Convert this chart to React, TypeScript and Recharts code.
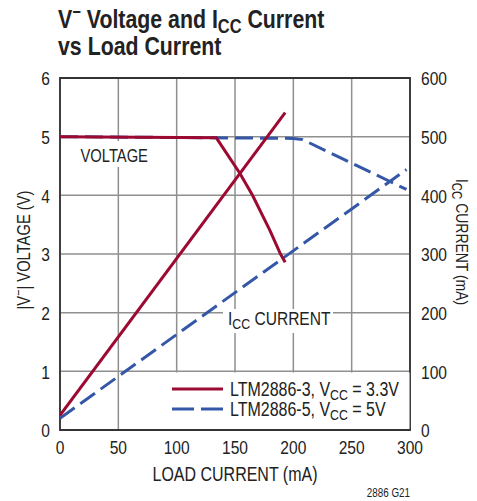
import React from "react";
import {
  ComposedChart,
  Line,
  XAxis,
  YAxis,
  CartesianGrid,
  ReferenceArea,
} from "recharts";

// ---- data ----
const loadV3 = [0, 134, 154, 165, 180, 189, 193];
const volt3 = [5.0, 4.98, 4.38, 4.0, 3.4, 3.0, 2.86];
const loadI3 = [0, 193];
const icc3 = [25, 541];

const loadV5 = [0, 200, 208, 297];
const volt5 = [5.0, 4.97, 4.95, 4.1];
const loadI5 = [0, 297];
const icc5 = [20, 444];

const xTicks = [0, 50, 100, 150, 200, 250, 300];
const leftTicks = [0, 1, 2, 3, 4, 5, 6];
const rightTicks = [0, 100, 200, 300, 400, 500, 600];

const zip = (xs: number[], ys: number[]) => xs.map((x, i) => ({ x, v: ys[i] }));

const dV3 = zip(loadV3, volt3);
const dI3 = zip(loadI3, icc3);
const dV5 = zip(loadV5, volt5);
const dI5 = zip(loadI5, icc5);

const RED = "#9c0a31";
const BLUE = "#3557a8";
const GRID = "#8f8f8f";
const TXT = "#222";
const F = "'Liberation Sans', Arial, sans-serif";
const SX = 0.82;
const DASH = "18 7";

type TProps = {
  x: number;
  y: number;
  size: number;
  anchor?: "start" | "middle" | "end";
  bold?: boolean;
  rotate?: number;
  dy?: string | number;
  children?: React.ReactNode;
};

function T({ x, y, size, anchor = "start", bold, rotate = 0, dy, children }: TProps) {
  return (
    <text
      transform={`translate(${x} ${y}) rotate(${rotate}) scale(${SX} 1)`}
      x={0}
      y={0}
      dy={dy}
      textAnchor={anchor}
      fontFamily={F}
      fontSize={size}
      fontWeight={bold ? "bold" : "normal"}
      fill={TXT}
    >
      {children}
    </text>
  );
}

const XTick = (p: any) => (
  <T x={p.x} y={p.y} size={19} anchor="middle" dy="0.71em">
    {p.payload.value}
  </T>
);
const LTick = (p: any) => (
  <T x={p.x} y={p.y} size={19} anchor="end" dy="0.38em">
    {p.payload.value}
  </T>
);
const RTick = (p: any) => (
  <T x={p.x} y={p.y} size={19} anchor="start" dy="0.38em">
    {p.payload.value}
  </T>
);

export default function App() {
  return (
    <div style={{ position: "absolute", left: 0, top: 0, width: 477, height: 501, background: "#fff" }}>
      <ComposedChart
        width={477}
        height={501}
        margin={{ top: 78, right: 7, bottom: 31, left: 10 }}
      >
        <XAxis
          dataKey="x"
          type="number"
          domain={[0, 300]}
          ticks={xTicks}
          axisLine={false}
          tickLine={false}
          tickSize={0}
          tickMargin={11}
          height={40}
          tick={<XTick />}
          allowDataOverflow
        />
        <YAxis
          yAxisId="left"
          domain={[0, 6]}
          ticks={leftTicks}
          axisLine={false}
          tickLine={false}
          tickSize={0}
          tickMargin={10}
          width={50}
          tick={<LTick />}
        />
        <YAxis
          yAxisId="right"
          orientation="right"
          domain={[0, 600]}
          ticks={rightTicks}
          axisLine={false}
          tickLine={false}
          tickSize={0}
          tickMargin={11}
          width={60}
          tick={<RTick />}
        />
        <CartesianGrid yAxisId="left" stroke={GRID} strokeWidth={1.5} />
        <ReferenceArea
          yAxisId="left"
          x1={0}
          x2={300}
          y1={0}
          y2={6}
          fill="none"
          stroke="#333"
          strokeWidth={1.8}
          ifOverflow="visible"
        />
        <Line
          yAxisId="left"
          data={dV5}
          dataKey="v"
          stroke={BLUE}
          strokeWidth={3}
          strokeDasharray={DASH}
          dot={false}
          isAnimationActive={false}
          type="linear"
        />
        <Line
          yAxisId="right"
          data={dI5}
          dataKey="v"
          stroke={BLUE}
          strokeWidth={3}
          strokeDasharray={DASH}
          dot={false}
          isAnimationActive={false}
          type="linear"
        />
        <Line
          yAxisId="left"
          data={dV3}
          dataKey="v"
          stroke={RED}
          strokeWidth={3}
          dot={false}
          isAnimationActive={false}
          type="linear"
        />
        <Line
          yAxisId="right"
          data={dI3}
          dataKey="v"
          stroke={RED}
          strokeWidth={3}
          dot={false}
          isAnimationActive={false}
          type="linear"
        />
      </ComposedChart>
      <svg
        width={477}
        height={501}
        style={{ position: "absolute", left: 0, top: 0, pointerEvents: "none" }}
      >
        {/* title */}
        <T x={58} y={28} size={26} bold>
          V<tspan dy={-10} fontSize={18}>−</tspan>
          <tspan dy={10}> Voltage and I</tspan>
          <tspan dy={5} fontSize={20}>CC</tspan>
          <tspan dy={-5}> Current</tspan>
        </T>
        <T x={58} y={55} size={26} bold>
          vs Load Current
        </T>

        {/* axis titles */}
        <T x={30} y={250} size={18} anchor="middle" rotate={-90}>
          |V<tspan dy={-7} fontSize={13}>−</tspan>
          <tspan dy={7}>| VOLTAGE (V)</tspan>
        </T>
        <T x={456} y={242} size={17} anchor="middle" rotate={90}>
          I<tspan dy={4} fontSize={14}>CC</tspan>
          <tspan dy={-4}> CURRENT (mA)</tspan>
        </T>
        <T x={235} y={481} size={19.5} anchor="middle">
          LOAD CURRENT (mA)
        </T>

        {/* annotations */}
        <rect x={76} y={141} width={76} height={26} fill="#fff" />
        <T x={80.5} y={162} size={18}>
          VOLTAGE
        </T>
        <rect x={223} y={309} width={110} height={24} fill="#fff" />
        <T x={228} y={325} size={19}>
          I<tspan dy={4} fontSize={15}>CC</tspan>
          <tspan dy={-4}> CURRENT</tspan>
        </T>

        {/* legend */}
        <rect x={163} y={372.5} width={246.5} height={56.5} fill="#fff" />
        <line x1={172} y1={389} x2={223} y2={389} stroke={RED} strokeWidth={3} />
        <line x1={172} y1={409} x2={223} y2={409} stroke={BLUE} strokeWidth={3} strokeDasharray="22 7" />
        <T x={230} y={396} size={19.5}>
          LTM2886-3, V<tspan dy={4} fontSize={15}>CC</tspan>
          <tspan dy={-4}> = 3.3V</tspan>
        </T>
        <T x={230} y={416} size={19.5}>
          LTM2886-5, V<tspan dy={4} fontSize={15}>CC</tspan>
          <tspan dy={-4}> = 5V</tspan>
        </T>

        <T x={410} y={497} size={12} anchor="end">
          2886 G21
        </T>
      </svg>
    </div>
  );
}
